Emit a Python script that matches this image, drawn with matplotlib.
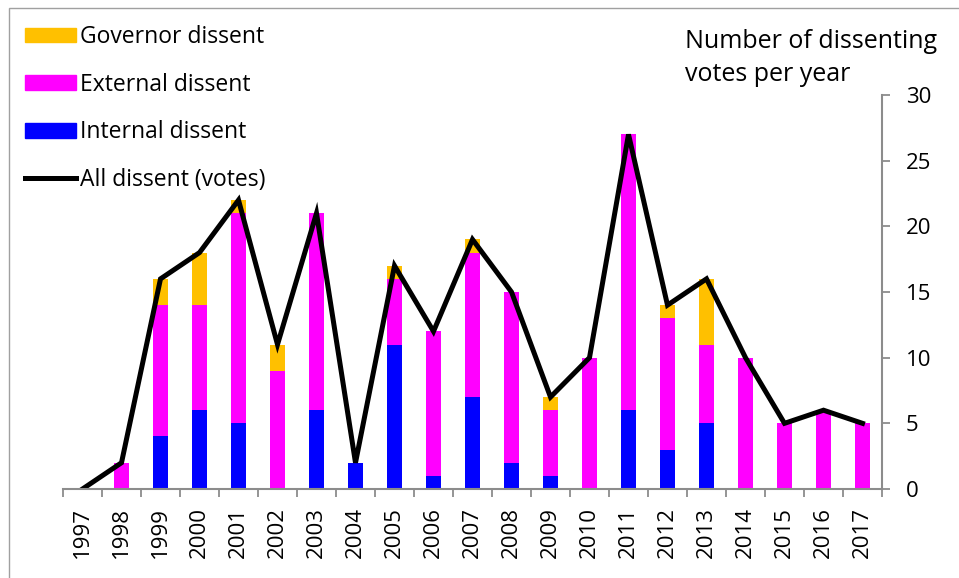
import matplotlib
matplotlib.use("Agg")
import matplotlib.pyplot as plt
import numpy as np
from matplotlib.patches import Patch, Rectangle
from matplotlib.lines import Line2D

plt.rcParams["font.family"] = ["Open Sans", "DejaVu Sans"]

years = [str(y) for y in range(1997, 2018)]
internal = [0, 0, 4, 6, 5, 0, 6, 2, 11, 1, 7, 2, 1, 0, 6, 3, 5, 0, 0, 0, 0]
external = [0, 2, 10, 8, 16, 9, 15, 0, 5, 11, 11, 13, 5, 10, 21, 10, 6, 10, 5, 6, 5]
governor = [0, 0, 2, 4, 1, 2, 0, 0, 1, 0, 1, 0, 1, 0, 0, 1, 5, 0, 0, 0, 0]
all_votes = [0, 2, 16, 18, 22, 11, 21, 2, 17, 12, 19, 15, 7, 10, 27, 14, 16, 10, 5, 6, 5]

C_GOV = "#FFC000"
C_EXT = "#FF00FF"
C_INT = "#0000FF"
SPINE = "#8c8c8c"

W, H = 959, 578
fig = plt.figure(figsize=(W / 100, H / 100), dpi=100)
ax = fig.add_axes([63 / W, (H - 489) / H, (882 - 63) / W, (489 - 95) / H])

x = np.arange(len(years))
internal = np.array(internal)
external = np.array(external)
governor = np.array(governor)
bw = 0.4
ax.bar(x, internal, bw, color=C_INT)
ax.bar(x, external, bw, bottom=internal, color=C_EXT)
ax.bar(x, governor, bw, bottom=internal + external, color=C_GOV)
ax.plot(x, all_votes, color="black", lw=3.6, solid_joinstyle="miter")

ax.set_xlim(-0.5, len(years) - 0.5)
ax.set_ylim(0, 30)
ax.set_yticks(range(0, 31, 5))
ax.yaxis.tick_right()
ax.tick_params(axis="y", direction="out", length=6, width=1.3, color=SPINE,
               pad=11, labelsize=16)

ax.set_xticks(x)
ax.set_xticklabels(years, rotation=90, fontsize=16)
ax.set_xticks(np.arange(-0.5, len(years)), minor=True)
ax.tick_params(axis="x", which="major", length=0, pad=13)
ax.tick_params(axis="x", which="minor", direction="out", length=6, width=1.3, color=SPINE)

for s in ["left", "top"]:
    ax.spines[s].set_visible(False)
for s in ["right", "bottom"]:
    ax.spines[s].set_color(SPINE)
    ax.spines[s].set_linewidth(1.5)

handles = [Patch(color=C_GOV), Patch(color=C_EXT), Patch(color=C_INT),
           Line2D([], [], color="black", lw=3.6)]
labels = ["Governor dissent", "External dissent", "Internal dissent", "All dissent (votes)"]
fig.legend(handles, labels, loc="upper left", bbox_to_anchor=(16 / W, 1 - 16 / H),
           frameon=False, fontsize=16.5, handlelength=2.2, handleheight=0.6,
           handletextpad=0.2, labelspacing=1.03, borderaxespad=0)

fig.text(685 / W, 1 - 29 / H, "Number of dissenting\nvotes per year",
         fontsize=18, va="top", ha="left", linespacing=1.42)

fig.patches.append(Rectangle((9 / W, -0.1), 1.2, (H - 8) / H + 0.1,
                             transform=fig.transFigure, fill=False,
                             edgecolor="#a0a0a0", lw=1.0))

fig.savefig("out.png", dpi=100)
